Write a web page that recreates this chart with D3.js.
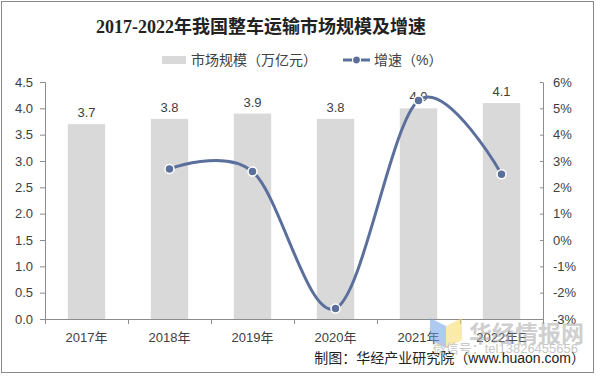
<!DOCTYPE html>
<html>
<head>
<meta charset="utf-8">
<script src="https://cdn.jsdelivr.net/npm/d3@7"></script>
<style>
  body { margin: 0; background: #fff; }
  svg { display: block; font-family: "Liberation Sans", Arial, "Noto Sans CJK SC", sans-serif; }
</style>
</head>
<body>
<svg id="chart" width="596" height="376"></svg>
<script>
// data
var years = ["2017年", "2018年", "2019年", "2020年", "2021年", "2022年E"];
var marketSize = [3.7, 3.8, 3.9, 3.8, 4.0, 4.1];        // 万亿元
var growth = [null, 2.7, 2.6, -2.6, 5.3, 2.5];           // %
var leftTicks = [0, 0.5, 1, 1.5, 2, 2.5, 3, 3.5, 4, 4.5];
var rightTicks = [-3, -2, -1, 0, 1, 2, 3, 4, 5, 6];

var svg = d3.select("#chart");
var W = 596, H = 376;
var plotL = 45, plotR = 543, plotT = 82, plotB = 319;
var axisColor = "#8c8c8c", textColor = "#404040";
var barColor = "#d9d9d9", lineColor = "#5b6f9c";

// outer frame
svg.append("rect")
    .attr("x", 1.5).attr("y", 1.5)
    .attr("width", W - 4).attr("height", H - 5)
    .attr("fill", "none")
    .attr("stroke", "#8a8a8a");

// title
svg.append("text")
    .attr("x", 261).attr("y", 33)
    .attr("text-anchor", "middle")
    .style("font-family", "'Liberation Serif', 'Noto Sans CJK SC', serif")
    .style("font-size", "18px")
    .style("font-weight", "bold")
    .attr("fill", "#222")
    .text("2017-2022年我国整车运输市场规模及增速");

// scales
var x = d3.scaleBand().domain(years).range([plotL, plotR]).paddingInner(0).paddingOuter(0);
var yL = d3.scaleLinear().domain([0, 4.5]).range([plotB, plotT]);
var yR = d3.scaleLinear().domain([-3, 6]).range([plotB, plotT]);
var barW = x.bandwidth() * 0.45;

// bars
svg.append("g").selectAll("rect")
    .data(marketSize)
    .enter().append("rect")
    .attr("x", function(d, i) { return x(years[i]) + (x.bandwidth() - barW) / 2; })
    .attr("y", function(d) { return yL(d); })
    .attr("width", barW)
    .attr("height", function(d) { return plotB - yL(d); })
    .attr("fill", barColor);

// bar labels
svg.append("g").selectAll("text")
    .data(marketSize)
    .enter().append("text")
    .attr("x", function(d, i) { return x(years[i]) + x.bandwidth() / 2; })
    .attr("y", function(d) { return yL(d) - 7; })
    .attr("text-anchor", "middle")
    .style("font-size", "13px")
    .attr("fill", textColor)
    .text(function(d) { return d.toFixed(1); });

// left axis
var gL = svg.append("g")
    .attr("transform", "translate(" + plotL + ",0)")
    .call(d3.axisLeft(yL).tickValues(leftTicks).tickSize(5).tickPadding(7)
        .tickFormat(d3.format(".1f")));
gL.selectAll("path, line").attr("stroke", axisColor);
gL.selectAll("text").style("font-size", "13px").attr("fill", textColor);

// right axis
var gR = svg.append("g")
    .attr("transform", "translate(" + plotR + ",0)")
    .call(d3.axisRight(yR).tickValues(rightTicks).tickSizeInner(-3).tickSizeOuter(0).tickPadding(10)
        .tickFormat(function(d) { return d + "%"; }));
gR.selectAll("path, line").attr("stroke", axisColor);
gR.selectAll("text").style("font-size", "13px").attr("fill", textColor);

// bottom axis: ticks on band edges
var gX = svg.append("g");
gX.append("line")
    .attr("x1", plotL).attr("x2", plotR)
    .attr("y1", plotB + 0.5).attr("y2", plotB + 0.5)
    .attr("stroke", axisColor);
gX.selectAll("line.tk")
    .data(years.concat(["end"]))
    .enter().append("line")
    .attr("class", "tk")
    .attr("x1", function(d, i) { return Math.round(plotL + i * x.bandwidth()) + 0.5; })
    .attr("x2", function(d, i) { return Math.round(plotL + i * x.bandwidth()) + 0.5; })
    .attr("y1", plotB).attr("y2", plotB + 5)
    .attr("stroke", axisColor);
gX.selectAll("text")
    .data(years)
    .enter().append("text")
    .attr("x", function(d) { return x(d) + x.bandwidth() / 2; })
    .attr("y", plotB + 23)
    .attr("text-anchor", "middle")
    .style("font-size", "13px")
    .attr("fill", textColor)
    .text(function(d) { return d; });

// growth line (Excel-style smoothing ~ uniform Catmull-Rom)
var pts = growth.map(function(d, i) { return { v: d, c: years[i] }; })
    .filter(function(p) { return p.v !== null; });
var line = d3.line()
    .x(function(p) { return x(p.c) + x.bandwidth() / 2; })
    .y(function(p) { return yR(p.v); })
    .curve(d3.curveCatmullRom.alpha(0));
svg.append("path")
    .datum(pts)
    .attr("d", line)
    .attr("fill", "none")
    .attr("stroke", lineColor)
    .attr("stroke-width", 3);
svg.append("g").selectAll("circle")
    .data(pts)
    .enter().append("circle")
    .attr("cx", function(p) { return x(p.c) + x.bandwidth() / 2; })
    .attr("cy", function(p) { return yR(p.v); })
    .attr("r", 4.5)
    .attr("fill", lineColor)
    .attr("stroke", "#fff")
    .attr("stroke-width", 1.5);

// legend
var lg = svg.append("g").attr("transform", "translate(0,60)");
lg.append("rect").attr("x", 162).attr("y", -4).attr("width", 24).attr("height", 8).attr("fill", barColor);
lg.append("text").attr("x", 191).attr("y", 5).style("font-size", "14px").attr("fill", textColor)
    .text("市场规模（万亿元）");
lg.append("line").attr("x1", 343).attr("x2", 370).attr("y1", 0).attr("y2", 0)
    .attr("stroke", lineColor).attr("stroke-width", 3);
lg.append("circle").attr("cx", 356.5).attr("cy", 0).attr("r", 4)
    .attr("fill", lineColor).attr("stroke", "#fff").attr("stroke-width", 1.2);
lg.append("text").attr("x", 374).attr("y", 5).style("font-size", "14px").attr("fill", textColor)
    .text("增速（%）");

// source
svg.append("text")
    .attr("x", 585).attr("y", 363)
    .attr("text-anchor", "end")
    .style("font-size", "14px")
    .attr("fill", "#222")
    .text("制图：华经产业研究院（www.huaon.com）");

// watermark
var wm = svg.append("g").attr("opacity", 0.55);
wm.append("path").attr("d", "M430,318 L446,326 L446,348 L430,340 Z").attr("fill", "#6f9fe8");
wm.append("path").attr("d", "M446,326 L462,318 L462,340 L446,348 Z").attr("fill", "#f6dc6a");
wm.append("text").attr("x", 469).attr("y", 342)
    .style("font-size", "23px").style("font-weight", "bold")
    .attr("fill", "#a8a8a8")
    .text("华经情报网");
wm.append("text").attr("x", 578).attr("y", 353).attr("text-anchor", "end")
    .style("font-size", "13px")
    .attr("fill", "#9a9a9a")
    .text("微信号：tel13826455656");
</script>
</body>
</html>
